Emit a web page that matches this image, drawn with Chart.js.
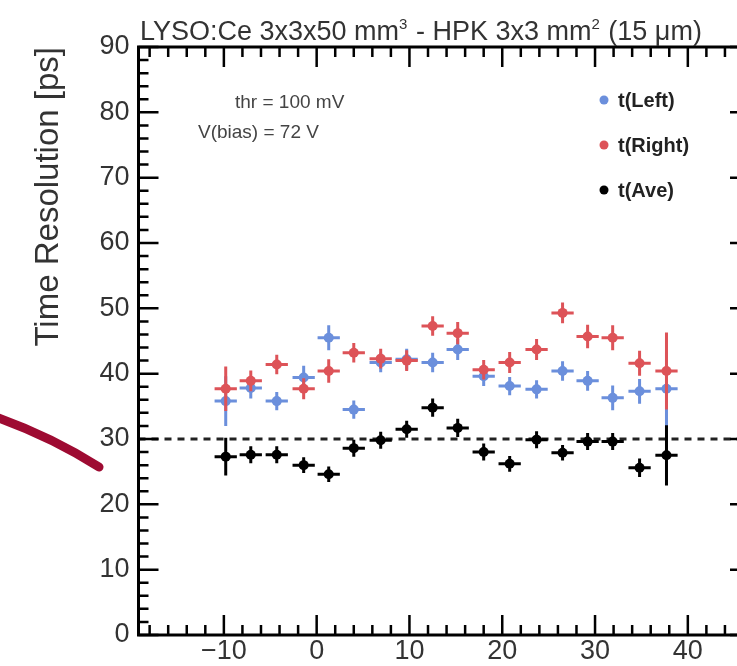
<!DOCTYPE html>
<html><head><meta charset="utf-8">
<script src="https://cdn.jsdelivr.net/npm/chart.js@4.4.0/dist/chart.umd.min.js"></script>
<style>html,body{margin:0;padding:0;overflow:hidden;background:#fff;width:737px;height:666px}canvas{display:block}</style>
</head><body>
<canvas id="c" width="770" height="666"></canvas>
<script>
// ---- data ----
const positions = [-9.8, -7.1, -4.3, -1.4, 1.3, 4.0, 6.9, 9.7, 12.5, 15.2, 18.0, 20.8, 23.7, 26.5, 29.2, 31.9, 34.8, 37.7];
const tLeft  = [35.8, 37.8, 35.8, 39.4, 45.5, 34.5, 41.7, 42.2, 41.7, 43.7, 39.6, 38.1, 37.6, 40.4, 38.9, 36.3, 37.3, 37.7];
const tRight = [37.7, 38.9, 41.4, 37.7, 40.4, 43.2, 42.3, 42.0, 47.3, 46.2, 40.6, 41.7, 43.7, 49.3, 45.7, 45.5, 41.6, 40.4];
const tAve   = [27.3, 27.6, 27.6, 26.0, 24.6, 28.6, 29.8, 31.5, 34.8, 31.7, 28.0, 26.2, 29.9, 27.9, 29.6, 29.6, 25.6, 27.5];
const errLeft  = [3.8, 1.6, 1.4, 1.8, 1.9, 1.4, 1.5, 1.6, 1.5, 1.6, 1.5, 1.4, 1.4, 1.5, 1.5, 1.9, 1.9, 5.7];
const errRight = [3.4, 1.6, 1.5, 1.6, 1.8, 1.5, 1.5, 1.6, 1.5, 1.7, 1.5, 1.6, 1.6, 1.6, 1.8, 1.9, 1.9, 5.9];
const errAve   = [2.9, 1.3, 1.3, 1.2, 1.2, 1.3, 1.3, 1.3, 1.4, 1.4, 1.3, 1.2, 1.3, 1.2, 1.3, 1.3, 1.4, 4.6];
const xHalfWidth = 1.2;
const refLevel = 30;
const xRange = [-19.2, 46.7];
const yRange = [0, 90];
const xStep = 10, yStep = 10, minorStep = 2;
const seriesNames = ['t(Left)', 't(Right)', 't(Ave)'];
const seriesColors = ['#6b8fdc', '#dd5358', '#000000'];
const titleParts = [['LYSO:Ce 3x3x50 mm', 0], ['3', 1], [' - HPK 3x3 mm', 0], ['2', 1], [' (15 \u03bcm)', 0]];
const infoLines = ['thr = 100 mV', 'V(bias) = 72 V'];
const yTitle = 'Time Resolution [ps]';

const pts = arr => positions.map((x, i) => ({x: x, y: arr[i]}));

const errorBars = {
  id: 'errorBars',
  beforeDatasetDraw(chart, args) {
    const ds = chart.data.datasets[args.index];
    if (!ds.yErr) return;
    const xs = chart.scales.x, ys = chart.scales.y, ctx = chart.ctx;
    ctx.save();
    ctx.strokeStyle = ds.backgroundColor;
    ctx.lineWidth = 3;
    ds.data.forEach((p, i) => {
      const px = xs.getPixelForValue(p.x), py = ys.getPixelForValue(p.y);
      const x0 = xs.getPixelForValue(p.x - xHalfWidth), x1 = xs.getPixelForValue(p.x + xHalfWidth);
      const y0 = ys.getPixelForValue(p.y - ds.yErr[i]), y1 = ys.getPixelForValue(p.y + ds.yErr[i]);
      ctx.beginPath();
      ctx.moveTo(x0, py); ctx.lineTo(x1, py);
      ctx.moveTo(px, y0); ctx.lineTo(px, y1);
      ctx.stroke();
    });
    ctx.restore();
  }
};

const frameTicks = {
  id: 'frameTicks',
  afterDatasetsDraw(chart) {
    const {ctx, chartArea: a} = chart;
    const xs = chart.scales.x, ys = chart.scales.y;
    ctx.save();
    ctx.strokeStyle = '#000';
    ctx.lineWidth = 2.5;
    ctx.beginPath();
    for (let v = Math.ceil(xRange[0] / minorStep) * minorStep; v <= xRange[1]; v += minorStep) {
      const L = (Math.abs(v % xStep) < 1e-9) ? 20 : 10;
      const px = xs.getPixelForValue(v);
      ctx.moveTo(px, a.bottom); ctx.lineTo(px, a.bottom - L);
      ctx.moveTo(px, a.top); ctx.lineTo(px, a.top + L);
    }
    for (let v = yRange[0]; v <= yRange[1]; v += minorStep) {
      const L = (Math.abs(v % yStep) < 1e-9) ? 20 : 10;
      const py = ys.getPixelForValue(v);
      ctx.moveTo(a.left, py); ctx.lineTo(a.left + L, py);
      ctx.moveTo(a.right, py); ctx.lineTo(a.right - L, py);
    }
    ctx.stroke();
    ctx.lineWidth = 3;
    ctx.strokeRect(a.left, a.top, a.right - a.left, a.bottom - a.top);
    ctx.restore();
  }
};

const decorations = {
  id: 'decorations',
  afterDraw(chart) {
    const ctx = chart.ctx;
    ctx.save();
    // title
    let x = 140;
    ctx.fillStyle = '#333';
    ctx.textBaseline = 'alphabetic';
    ctx.textAlign = 'left';
    titleParts.forEach(([t, sup]) => {
      ctx.font = sup ? '15px "Liberation Sans"' : '27px "Liberation Sans"';
      ctx.fillText(t, x, sup ? 29 : 40);
      x += ctx.measureText(t).width + (sup ? 1 : 0);
    });
    // info text
    ctx.font = '19px "Liberation Sans"';
    ctx.fillStyle = '#444';
    ctx.textBaseline = 'middle';
    ctx.fillText(infoLines[0], 235, 103);
    ctx.fillText(infoLines[1], 198, 133);
    // legend
    const legY = [100, 145, 190];
    chart.data.datasets.slice(0, 3).forEach((ds) => {
      const k = seriesNames.indexOf(ds.label);
      ctx.fillStyle = ds.backgroundColor;
      ctx.beginPath(); ctx.arc(604, legY[k], 4.5, 0, Math.PI * 2); ctx.fill();
      ctx.fillStyle = '#222';
      ctx.font = 'bold 20px "Liberation Sans"';
      ctx.fillText(ds.label, 618, legY[k] + 1);
    });
    // hand-drawn red stroke
    ctx.strokeStyle = '#9e0b32';
    ctx.lineCap = 'round';
    ctx.lineJoin = 'round';
    ctx.lineWidth = 9;
    ctx.beginPath();
    ctx.moveTo(-4, 417);
    ctx.quadraticCurveTo(52, 437, 99, 467);
    ctx.stroke();
    ctx.restore();
  }
};

new Chart(document.getElementById('c'), {
  type: 'scatter',
  data: {
    datasets: [
      {label: seriesNames[2], data: pts(tAve), yErr: errAve, backgroundColor: seriesColors[2], pointRadius: 5, pointBorderWidth: 0, pointHoverRadius: 5},
      {label: seriesNames[1], data: pts(tRight), yErr: errRight, backgroundColor: seriesColors[1], pointRadius: 5, pointBorderWidth: 0, pointHoverRadius: 5},
      {label: seriesNames[0], data: pts(tLeft), yErr: errLeft, backgroundColor: seriesColors[0], pointRadius: 5, pointBorderWidth: 0, pointHoverRadius: 5},
      {label: 'ref', type: 'line', data: [{x: xRange[0], y: refLevel}, {x: xRange[1], y: refLevel}], borderColor: '#222', borderWidth: 3, borderDash: [7, 6], pointRadius: 0, fill: false}
    ]
  },
  options: {
    responsive: false,
    animation: false,
    events: [],
    layout: {padding: {top: 47, right: 20, left: 0, bottom: 0}},
    plugins: {legend: {display: false}, tooltip: {enabled: false}, title: {display: false}},
    scales: {
      x: {
        type: 'linear', min: xRange[0], max: xRange[1],
        grid: {display: false, drawTicks: false},
        border: {display: false},
        afterFit: s => { s.height = 31; },
        ticks: {stepSize: xStep, includeBounds: false, padding: 0, color: '#333',
          font: {family: 'Liberation Sans', size: 27},
          callback: v => String(v).replace('-', '\u2212')}
      },
      y: {
        min: yRange[0], max: yRange[1],
        grid: {display: false, drawTicks: false},
        border: {display: false},
        afterFit: s => { s.width = 138.5; },
        ticks: {stepSize: yStep, padding: 9, color: '#333', font: {family: 'Liberation Sans', size: 27}},
        title: {display: true, text: yTitle, align: 'end', color: '#333',
          font: {family: 'Liberation Sans', size: 33}, padding: {top: 29, bottom: 0}}
      }
    }
  },
  plugins: [errorBars, frameTicks, decorations]
});
</script>
</body></html>
